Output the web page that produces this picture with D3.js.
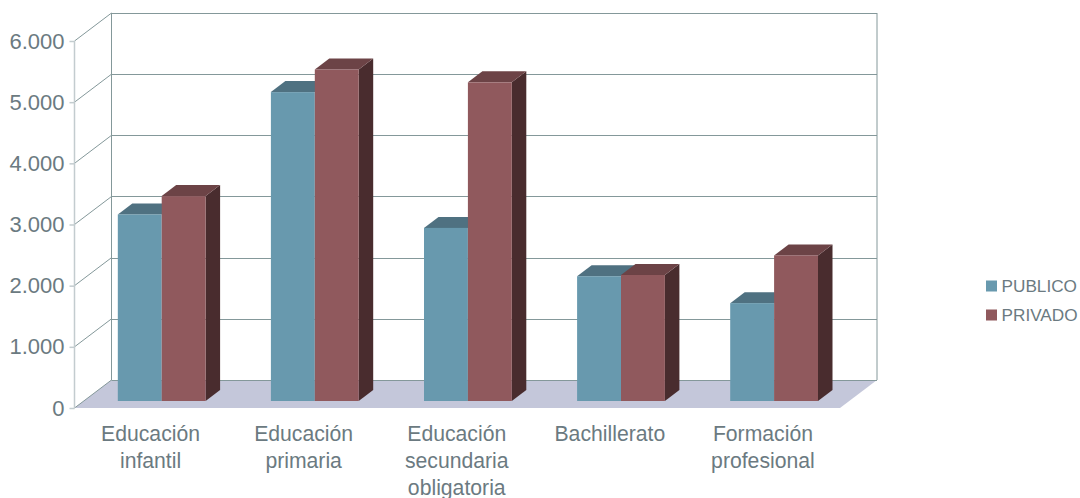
<!DOCTYPE html>
<html><head><meta charset="utf-8">
<script src="https://cdn.jsdelivr.net/npm/d3@7"></script>
<style>html,body{margin:0;padding:0;background:#fff}svg{display:block}text{font-family:"Liberation Sans",Arial,sans-serif;fill:#6b7a81}</style>
</head><body><svg id="c" width="1080" height="498"></svg>
<script>
const categories=[["Educación","infantil"],["Educación","primaria"],["Educación","secundaria","obligatoria"],["Bachillerato"],["Formación","profesional"]];
const seriesNames=["PUBLICO","PRIVADO"];
const publico=[3050,5050,2830,2040,1600];
const privado=[3350,5420,5210,2060,2380];
const yTicks=[0,1000,2000,3000,4000,5000,6000];
const faces=[{front:"#6899ae",top:"#4f7181",side:"#3e5c6a"},{front:"#90595d",top:"#6c4346",side:"#492c2e"}];

const svg=d3.select("#c");
const x=d3.scaleBand().domain(d3.range(categories.length)).range([74.5,840]);
const y=d3.scaleLinear().domain([0,6000]).range([408,41]);
const fmt=d=>d===0?"0":d3.format(",")(d).replace(",",".");
const dX=37,dY=28;
const bX=14.5,bY=11;
const barOffX=43.3,barOffY=7,barW=43.9;

svg.append("polygon").attr("fill","#c4c7da")
 .attr("points",[[x.range()[0],y(0)],[x.range()[1],y(0)],[x.range()[1]+dX,y(0)-dY],[x.range()[0]+dX,y(0)-dY]].join(" "));
const wall="#84989a";
const g=svg.append("g").attr("fill","none").attr("stroke",wall).attr("stroke-width",1);
yTicks.forEach(t=>{
  const gy=Math.round(y(t)-.1)-dY+.5;
  g.append("line").attr("x1",x.range()[0]+dX).attr("x2",x.range()[1]+dX).attr("y1",gy).attr("y2",gy);
  g.append("line").attr("x1",x.range()[0]).attr("x2",x.range()[0]+dX).attr("y1",y(t)).attr("y2",y(t)-dY);
});
g.append("line").attr("x1",x.range()[0]+dX).attr("x2",x.range()[0]+dX).attr("y1",y(6000)-dY).attr("y2",y(0)-dY);
g.append("line").attr("x1",x.range()[1]+dX).attr("x2",x.range()[1]+dX).attr("y1",y(6000)-dY).attr("y2",y(0)-dY);

const ax=svg.append("g").attr("transform",`translate(${x.range()[0]},0)`)
 .call(d3.axisLeft(y).tickValues(yTicks).tickFormat(fmt).tickSize(5).tickPadding(5));
ax.selectAll("path,line").attr("stroke","#c3cccf").attr("stroke-width",1.5);
ax.select("path").attr("d",`M0,${y(6000)}V${y(0)}`);
ax.selectAll("text").style("font-size","22px").style("fill","#6b7a81").attr("font-family",null);

[publico,privado].forEach((vals,s)=>{
  const f=faces[s];
  const gb=svg.append("g");
  vals.forEach((v,i)=>{
    const L=x(i)+barOffX+s*barW, R=L+barW, T=y(v)-barOffY, B=y(0)-barOffY;
    if(s===1){ gb.append("polygon").attr("fill",f.side).attr("points",[[R,T],[R+bX,T-bY],[R+bX,B-bY],[R,B]].join(" ")); }
    gb.append("polygon").attr("fill",f.top).attr("points",[[L,T],[L+bX,T-bY],[R+bX,T-bY],[R,T]].join(" "));
  });
});
[publico,privado].forEach((vals,s)=>{
  vals.forEach((v,i)=>{
    const L=x(i)+barOffX+s*barW;
    svg.append("rect").attr("x",L).attr("y",y(v)-barOffY).attr("width",barW).attr("height",y(0)-y(v)).attr("fill",faces[s].front);
  });
});

categories.forEach((lines,i)=>{
  const t=svg.append("text").attr("text-anchor","middle").style("font-size","21.2px");
  lines.forEach((l,j)=>t.append("tspan").attr("x",x(i)+x.bandwidth()/2-.5).attr("y",441+j*27).text(l));
});

seriesNames.forEach((n,i)=>{
  const yy=286+i*29;
  svg.append("rect").attr("x",986).attr("y",yy-5.5).attr("width",11).attr("height",11).attr("fill",faces[i].front);
  svg.append("text").attr("x",1001.5).attr("y",yy+6).style("font-size","17.2px").text(n);
});
</script></body></html>
